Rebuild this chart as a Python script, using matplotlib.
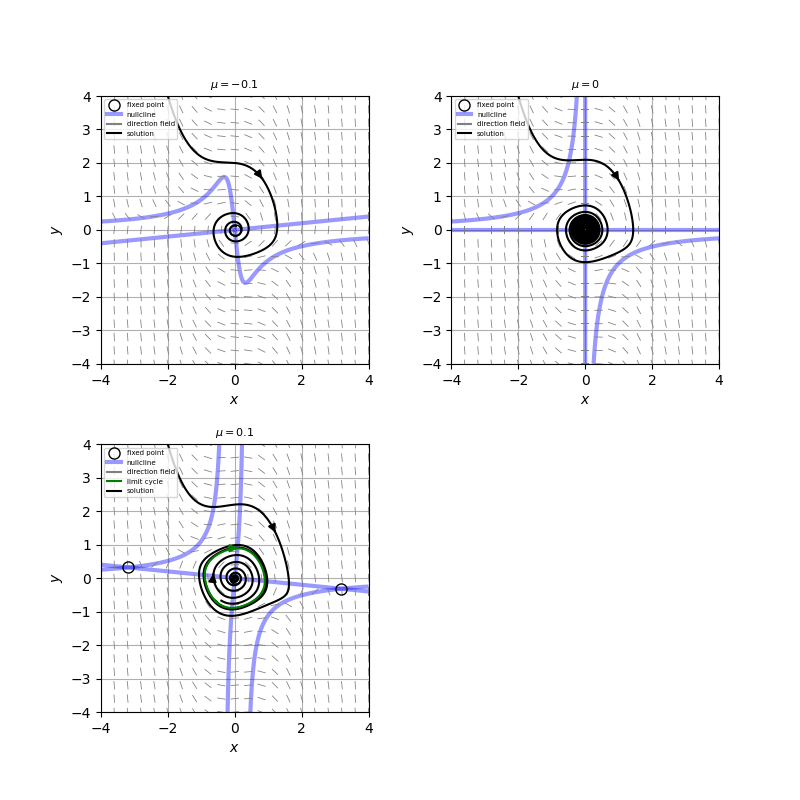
import numpy as np
import matplotlib
matplotlib.use("Agg")
import matplotlib.pyplot as plt
from matplotlib.lines import Line2D

# ---- data / parameters ----
mus = [-0.1, 0.0, 0.1]
titles = [r"$\mu = -0.1$", r"$\mu = 0$", r"$\mu = 0.1$"]
outer_start = (-2.0, 4.0)
inner_start = (0.01, 0.01)
outer_T = [20.0, 1000.0, 20.0]
inner_T = 47.0
arrow_t = [1.27, 1.36, 1.45]
inner_arrow_t = 41.8
ticks = [-4, -3, -2, -1, 0, 1, 2, 3, 4]
field_pts = np.arange(-4, 4.01, 0.4)


def rhs(x, y, mu):
    return mu * x + y, -x + mu * y - x * x * y


def integrate(x0, y0, mu, T, dt=0.01):
    n = int(round(T / dt))
    xs = np.empty(n + 1)
    ys = np.empty(n + 1)
    x, y = x0, y0
    xs[0], ys[0] = x, y
    for i in range(n):
        k1x, k1y = rhs(x, y, mu)
        k2x, k2y = rhs(x + 0.5 * dt * k1x, y + 0.5 * dt * k1y, mu)
        k3x, k3y = rhs(x + 0.5 * dt * k2x, y + 0.5 * dt * k2y, mu)
        k4x, k4y = rhs(x + dt * k3x, y + dt * k3y, mu)
        x += dt / 6 * (k1x + 2 * k2x + 2 * k3x + k4x)
        y += dt / 6 * (k1y + 2 * k2y + 2 * k3y + k4y)
        xs[i + 1], ys[i + 1] = x, y
    return xs, ys


def add_arrow(ax, xs, ys, i, color="k"):
    ax.annotate("", xy=(xs[i + 1], ys[i + 1]), xytext=(xs[i], ys[i]),
                arrowprops=dict(arrowstyle="-|>", color=color, lw=1.5,
                                mutation_scale=11, shrinkA=0, shrinkB=0),
                zorder=6)


fig, axes = plt.subplots(2, 2, figsize=(8, 8), dpi=100)
plt.subplots_adjust(wspace=0.3, hspace=0.3)
axes[1, 1].remove()
axlist = [axes[0, 0], axes[0, 1], axes[1, 0]]

g = np.linspace(-4, 4, 600)
GX, GY = np.meshgrid(g, g)
QX, QY = np.meshgrid(field_pts, field_pts)
dt = 0.01

for k, (ax, mu) in enumerate(zip(axlist, mus)):
    # nullclines
    F, G = rhs(GX, GY, mu)
    ax.contour(GX, GY, F, levels=[0], colors="blue", linewidths=3, alpha=0.4, zorder=2)
    ax.contour(GX, GY, G, levels=[0], colors="blue", linewidths=3, alpha=0.4, zorder=2)

    # direction field
    U, V = rhs(QX, QY, mu)
    N = np.hypot(U, V)
    N[N == 0] = 1
    ax.quiver(QX, QY, U / N, V / N, color="gray", pivot="mid",
              headwidth=0, headlength=0, headaxislength=0,
              scale=1 / 0.25, scale_units="xy", angles="xy", width=0.003, zorder=2)

    # fixed points
    fx = [0.0]
    fy = [0.0]
    if mu > 0:
        r = np.sqrt(mu + 1 / mu)
        fx += [-r, r]
        fy += [mu * r, -mu * r]
    ax.plot(fx, fy, "o", ms=8, mfc="none", mec="k", mew=1.0, zorder=3)

    # solutions
    xs, ys = integrate(*outer_start, mu, outer_T[k], dt)
    ax.plot(xs, ys, "k-", lw=1.5, zorder=4)
    add_arrow(ax, xs, ys, int(round(arrow_t[k] / dt)))

    handles = [
        Line2D([], [], ls="none", marker="o", ms=8, mfc="none", mec="k", label="fixed point"),
        Line2D([], [], color="blue", alpha=0.4, lw=3, label="nullcline"),
        Line2D([], [], color="gray", lw=1.5, label="direction field"),
    ]

    if mu > 0:
        xi, yi = integrate(*inner_start, mu, inner_T, dt)
        ax.plot(xi, yi, "k-", lw=1.5, zorder=4)
        add_arrow(ax, xi, yi, int(round(inner_arrow_t / dt)))
        # limit cycle: long integration, last period
        xl, yl = integrate(1.0, 0.0, mu, 300.0, dt)
        nper = int(round(6.6 / dt))
        xl, yl = xl[-nper:], yl[-nper:]
        ax.plot(xl, yl, color="green", lw=1.5, zorder=5)
        j = int(np.argmax(yl))
        if j >= len(yl) - 1:
            j -= 1
        add_arrow(ax, xl, yl, j, color="green")
        handles.append(Line2D([], [], color="green", lw=1.5, label="limit cycle"))

    handles.append(Line2D([], [], color="k", lw=1.5, label="solution"))

    ax.set_xlim(-4, 4)
    ax.set_ylim(-4, 4)
    ax.set_aspect("equal")
    ax.set_yticks(ticks)
    ax.grid(True)
    ax.set_axisbelow(True)
    ax.set_xlabel("$x$")
    ax.set_ylabel("$y$")
    ax.set_title(titles[k], fontsize=8)
    ax.legend(handles=handles, loc="upper left", fontsize=5)

fig.savefig("out.png", dpi=100)
